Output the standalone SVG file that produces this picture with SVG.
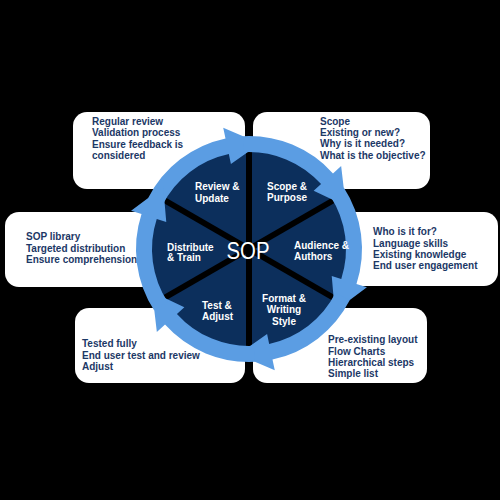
<svg xmlns="http://www.w3.org/2000/svg" width="500" height="500" viewBox="0 0 500 500">
<style>
.box{fill:#ffffff}
.bt{font-family:"Liberation Sans",Arial,sans-serif;font-weight:bold;font-size:10px;fill:#1c3866}
.lt{font-family:"Liberation Sans",Arial,sans-serif;font-weight:bold;font-size:10px;fill:#ffffff}
.sop{font-family:"Liberation Sans",Arial,sans-serif;font-size:24px;fill:#ffffff}
.arrow{fill:#5b9de3}
.div{stroke:#000000;stroke-width:6}
</style>
<defs>
<path id="arr" d="M148.32,197.70 A113,113 0 0 1 225.51,138.47 L223.22,127.72 L260.08,143.58 L230.91,163.91 L228.83,154.12 A97,97 0 0 0 162.57,204.96 Z"/>
</defs>
<rect width="500" height="500" fill="#000000"/>

<g id="box-review"><rect class="box" x="73" y="112" width="172" height="77" rx="14"/>
<text class="bt" x="92" y="124.5">Regular review</text>
<text class="bt" x="92" y="136">Validation process</text>
<text class="bt" x="92" y="147.5">Ensure feedback is</text>
<text class="bt" x="92" y="159">considered</text></g>

<g id="box-scope"><rect class="box" x="253" y="112" width="177" height="77" rx="14"/>
<text class="bt" x="320" y="124.5">Scope</text>
<text class="bt" x="320" y="135.5">Existing or new?</text>
<text class="bt" x="320" y="147">Why is it needed?</text>
<text class="bt" x="320" y="158.5">What is the objective?</text></g>

<g id="box-distribute"><rect class="box" x="5" y="212" width="200" height="75" rx="14"/>
<text class="bt" x="26" y="240">SOP library</text>
<text class="bt" x="26" y="251.5">Targeted distribution</text>
<text class="bt" x="26" y="263">Ensure comprehension</text></g>

<g id="box-audience"><rect class="box" x="300" y="212" width="198" height="74" rx="14"/>
<text class="bt" x="373" y="235">Who is it for?</text>
<text class="bt" x="373" y="246.5">Language skills</text>
<text class="bt" x="373" y="257.5">Existing knowledge</text>
<text class="bt" x="373" y="269">End user engagement</text></g>

<g id="box-test"><rect class="box" x="75" y="308" width="170" height="75" rx="14"/>
<text class="bt" x="82" y="347">Tested fully</text>
<text class="bt" x="82" y="358.5">End user test and review</text>
<text class="bt" x="82" y="370">Adjust</text></g>

<g id="box-format"><rect class="box" x="253" y="308" width="174" height="75" rx="14"/>
<text class="bt" x="328" y="343">Pre-existing layout</text>
<text class="bt" x="328" y="354.5">Flow Charts</text>
<text class="bt" x="328" y="365.5">Hierarchical steps</text>
<text class="bt" x="328" y="376.5">Simple list</text></g>

<g id="hub">
<circle cx="249" cy="249" r="100" fill="#0c2f5c"/>
<line class="div" x1="249" y1="249" x2="249" y2="137"/>
<line class="div" x1="249" y1="249" x2="346" y2="193"/>
<line class="div" x1="249" y1="249" x2="346" y2="305"/>
<line class="div" x1="249" y1="249" x2="249" y2="361"/>
<line class="div" x1="249" y1="249" x2="152" y2="305"/>
<line class="div" x1="249" y1="249" x2="152" y2="193"/>
</g>

<g id="connectors">
<use href="#arr" class="arrow"/>
<use href="#arr" class="arrow" transform="rotate(60 249 249)"/>
<use href="#arr" class="arrow" transform="rotate(120 249 249)"/>
<use href="#arr" class="arrow" transform="rotate(180 249 249)"/>
<use href="#arr" class="arrow" transform="rotate(240 249 249)"/>
<use href="#arr" class="arrow" transform="rotate(300 249 249)"/>
</g>

<g id="labels">
<text class="lt" x="195" y="190">Review &amp;</text>
<text class="lt" x="195" y="201.5">Update</text>
<text class="lt" x="267" y="190">Scope &amp;</text>
<text class="lt" x="267" y="201">Purpose</text>
<text class="lt" x="167" y="250.5">Distribute</text>
<text class="lt" x="167" y="261">&amp; Train</text>
<text class="lt" x="294" y="249">Audience &amp;</text>
<text class="lt" x="294" y="260">Authors</text>
<text class="lt" x="284" y="302" text-anchor="middle">Format &amp;</text>
<text class="lt" x="284" y="313" text-anchor="middle">Writing</text>
<text class="lt" x="284" y="324.5" text-anchor="middle">Style</text>
<text class="lt" x="202" y="309">Test &amp;</text>
<text class="lt" x="202" y="320">Adjust</text>
<text class="sop" x="248" y="258.5" text-anchor="middle" textLength="43" lengthAdjust="spacingAndGlyphs">SOP</text>
</g>
</svg>
